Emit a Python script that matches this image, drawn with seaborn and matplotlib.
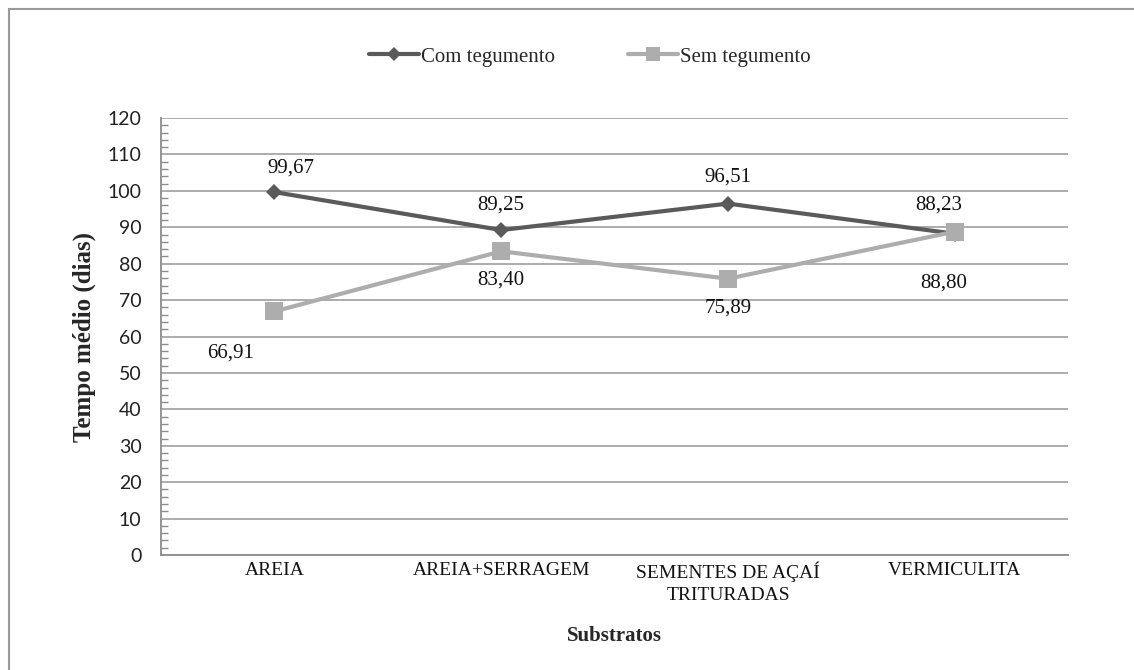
import matplotlib
matplotlib.use('Agg')
import matplotlib.pyplot as plt
from matplotlib.lines import Line2D
from matplotlib.ticker import MultipleLocator
import seaborn as sns
import pandas as pd

# dados do gráfico
substratos = ['AREIA', 'AREIA+SERRAGEM', 'SEMENTES DE AÇAÍ\nTRITURADAS', 'VERMICULITA']
com_tegumento = [99.67, 89.25, 96.51, 88.23]
sem_tegumento = [66.91, 83.40, 75.89, 88.80]
series = ['Com tegumento', 'Sem tegumento']

df = pd.DataFrame({
    'Substratos': substratos * 2,
    'Tempo': com_tegumento + sem_tegumento,
    'Serie': [series[0]] * 4 + [series[1]] * 4,
})

sns.set_theme(style='white')
plt.rcParams['font.family'] = ['Liberation Serif', 'DejaVu Serif']

cor_escura = '#5a5a5a'
cor_clara = '#adadad'

fig = plt.figure(figsize=(11.34, 6.70), dpi=100)
ax = fig.add_axes([0.142, 0.1716, 0.800, 0.6522])

sns.lineplot(data=df, x='Substratos', y='Tempo', hue='Serie', style='Serie',
             palette={series[0]: cor_escura, series[1]: cor_clara},
             markers={series[0]: 'D', series[1]: 's'},
             dashes=False, linewidth=3, sort=False, ax=ax, legend=False)

# ajustar tamanhos dos marcadores
for ln, ms in zip(ax.lines, [8, 13]):
    ln.set_markersize(ms)
    ln.set_markeredgewidth(0)

ax.set_xlim(-0.5, 3.5)
ax.set_ylim(0, 120)
ax.yaxis.set_major_locator(MultipleLocator(10))
ax.yaxis.set_minor_locator(MultipleLocator(2))
ax.grid(axis='y', which='major', color='#a6a6a6', linewidth=1.3)
ax.set_axisbelow(True)

for s in ['top', 'right']:
    ax.spines[s].set_visible(False)
for s in ['left', 'bottom']:
    ax.spines[s].set_color('#8c8c8c')
    ax.spines[s].set_linewidth(1.3)

ax.tick_params(axis='y', which='major', length=0, labelsize=14, pad=14, labelcolor='#222222')
ax.tick_params(axis='y', which='minor', left=True, direction='in', length=5, width=1, color='#8c8c8c')
ax.tick_params(axis='x', length=0, labelsize=14, pad=5, labelcolor='#111111')
for lab in ax.get_yticklabels():
    lab.set_family(['Lato', 'DejaVu Sans'])
for lab in ax.get_xticklabels():
    lab.set_linespacing(1.35)

ax.set_xlabel('Substratos', fontsize=15, fontweight='bold', labelpad=16)
ax.set_ylabel('Tempo médio (dias)', fontsize=18, fontweight='bold', labelpad=8)

# rótulos de dados
def rotulo(v):
    return f'{v:.2f}'.replace('.', ',')

desloc_com = [(16, 24), (0, 25), (0, 27), (-16, 29)]
desloc_sem = [(-44, -42), (0, -29), (0, -29), (-11, -51)]
for i in range(4):
    ax.annotate(rotulo(com_tegumento[i]), (i, com_tegumento[i]), xytext=desloc_com[i],
                textcoords='offset pixels', ha='center', va='center', fontsize=15, color='#111111')
    ax.annotate(rotulo(sem_tegumento[i]), (i, sem_tegumento[i]), xytext=desloc_sem[i],
                textcoords='offset pixels', ha='center', va='center', fontsize=15, color='#111111')

# legenda
handles = [
    Line2D([], [], color=cor_escura, lw=3, marker='D', markersize=7, markeredgewidth=0),
    Line2D([], [], color=cor_clara, lw=3, marker='s', markersize=10, markeredgewidth=0),
]
fig.legend(handles, series, loc='center', bbox_to_anchor=(0.52, 0.915), ncol=2,
           frameon=False, fontsize=15, handlelength=2.4, handletextpad=0.1,
           columnspacing=3.5)

# moldura (topo e esquerda)
fig.add_artist(Line2D([9 / 1134, 1], [1 - 9 / 670, 1 - 9 / 670], color='#9a9a9a', lw=1.5,
                      transform=fig.transFigure))
fig.add_artist(Line2D([9 / 1134, 9 / 1134], [0, 1 - 9 / 670], color='#9a9a9a', lw=1.5,
                      transform=fig.transFigure))

fig.savefig('out.png', dpi=100, facecolor='white')
